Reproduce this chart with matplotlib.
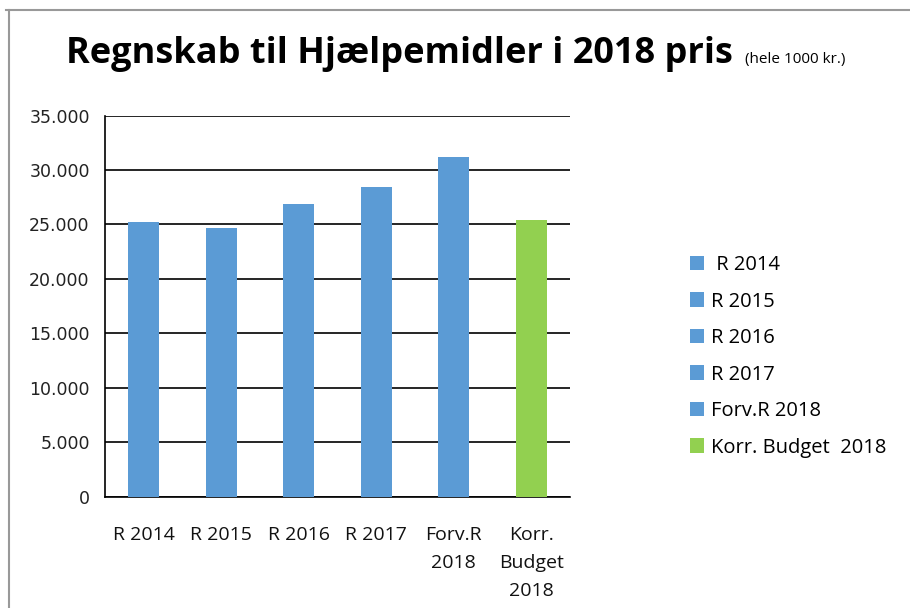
# regnskab til hjaelpemidler - bar chart

import matplotlib
matplotlib.use("Agg")
import matplotlib.pyplot as plt
from matplotlib.lines import Line2D


# categories and values (1000 kr.)
categories = ["R 2014", "R 2015", "R 2016", "R 2017", "Forv.R\n2018", "Korr.\nBudget\n2018"]
legend_labels = [" R 2014", "R 2015", "R 2016", "R 2017", "Forv.R 2018", "Korr. Budget  2018"]
values = [25200, 24700, 26900, 28400, 31200, 25400]
colors = ["#5B9BD5", "#5B9BD5", "#5B9BD5", "#5B9BD5", "#5B9BD5", "#92D050"]

yticks = [0, 5000, 10000, 15000, 20000, 25000, 30000, 35000]
ytick_labels = ["0", "5.000", "10.000", "15.000", "20.000", "25.000", "30.000", "35.000"]


fig = plt.figure(figsize=(9.1, 6.08), dpi=100)
ax = fig.add_axes([0.1154, 0.183, 0.511, 0.627])

xs = list(range(len(categories)))
for x, v, c, lab in zip(xs, values, colors, legend_labels):
    ax.bar(x, v, width=0.40, color=c, label=lab, zorder=3)

ax.set_xlim(-0.5, len(categories) - 0.5)
ax.set_ylim(0, 35000)
ax.set_yticks(yticks)
ax.set_yticklabels(ytick_labels, fontsize=12.5, color="#222222")
ax.set_xticks(xs)
ax.set_xticklabels(categories, fontsize=14, family="Open Sans",
                   linespacing=1.72, color="#111111")
ax.tick_params(length=0)
ax.tick_params(axis="x", pad=21)
ax.tick_params(axis="y", pad=11)

ax.grid(axis="y", color="black", linewidth=1.2, zorder=0)
for s in ["top", "right"]:
    ax.spines[s].set_visible(False)
ax.spines["left"].set_linewidth(1.2)
ax.spines["bottom"].set_linewidth(1.2)

leg = ax.legend(loc="center left", bbox_to_anchor=(0.738, 0.414),
                bbox_transform=fig.transFigure, frameon=False,
                handlelength=0.7, handleheight=0.7, handletextpad=0.35,
                labelspacing=0.82, prop={"family": "Open Sans", "size": 14.5})

# title
fig.text(0.072, 1 - 63.3/608, "Regnskab til Hjælpemidler i 2018 pris", fontsize=26,
         fontweight="bold", family="Open Sans", va="baseline", ha="left")
fig.text(0.819, 1 - 63.3/608, "(hele 1000 kr.)", fontsize=11, family="Open Sans",
         va="baseline", ha="left")

# chart area border (top and left)
fig.add_artist(Line2D([0.007, 1.0], [1 - 10/608, 1 - 10/608], color="#999999", lw=1.5))
fig.add_artist(Line2D([0.0099, 0.0099], [0, 1 - 10/608], color="#999999", lw=1.5))

fig.savefig("out.png", dpi=100)
